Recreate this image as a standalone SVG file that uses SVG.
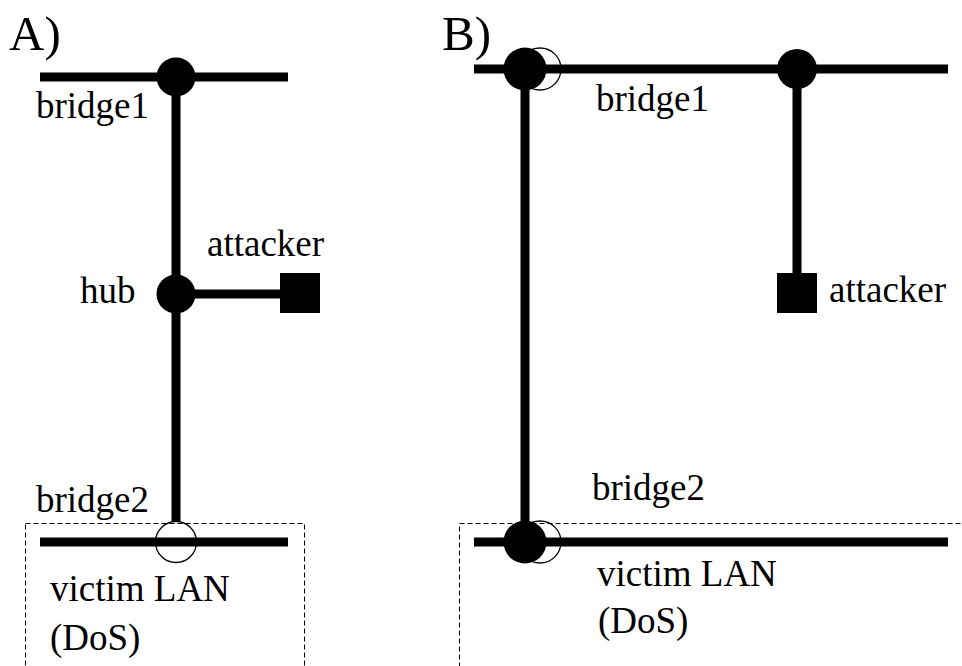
<svg xmlns="http://www.w3.org/2000/svg" width="962" height="666" viewBox="0 0 962 666">
<style>
text{font-family:"Liberation Serif","Times New Roman",serif;font-size:37px;fill:#000}
.big{font-size:49px}
.w{stroke:#000;stroke-width:9;fill:none}
.dash{stroke:#000;stroke-width:1;fill:none;stroke-dasharray:5 3}
.open{fill:none;stroke:#000;stroke-width:1.3}
</style>
<rect width="962" height="666" fill="#fff"/>
<text class="big" x="9" y="50">A)</text>
<text class="big" x="442" y="50">B)</text>
<g id="victimA-box"><rect class="dash" x="25.5" y="523.5" width="279" height="160"/></g>
<g id="victimB-box"><rect class="dash" x="459.5" y="523.5" width="520" height="160"/></g>
<g id="connectors">
<line class="w" x1="40" y1="77" x2="288" y2="77"/>
<line class="w" x1="176" y1="77" x2="176" y2="522"/>
<line class="w" x1="176" y1="294" x2="282" y2="294"/>
<line class="w" x1="40" y1="542" x2="288" y2="542"/>
<line class="w" x1="474" y1="69" x2="948" y2="69"/>
<line class="w" x1="525" y1="69" x2="525" y2="542"/>
<line class="w" x1="797" y1="69" x2="797" y2="275"/>
<line class="w" x1="474" y1="542" x2="948" y2="542"/>
</g>
<g id="bridge1A"><circle cx="176" cy="77" r="19.5"/><text x="36" y="118">bridge1</text></g>
<g id="hubA"><circle cx="176" cy="294" r="19.5"/><text x="80" y="303">hub</text></g>
<g id="attackerA"><rect x="280" y="273" width="40" height="40"/><text x="207" y="256">attacker</text></g>
<g id="bridge2A"><circle class="open" cx="176" cy="542" r="20.5"/><text x="36" y="512">bridge2</text></g>
<g id="victimA"><text x="50" y="601">victim LAN</text><text x="50" y="650">(DoS)</text></g>
<g id="bridge1B"><circle class="open" cx="540" cy="69" r="21"/><circle cx="525" cy="69" r="21.5"/><text x="596" y="111">bridge1</text></g>
<g id="nodeB"><circle cx="797" cy="69" r="20"/></g>
<g id="attackerB"><rect x="777" y="273" width="40" height="40"/><text x="829" y="302">attacker</text></g>
<g id="bridge2B"><circle class="open" cx="540" cy="542" r="21"/><circle cx="525" cy="542" r="21.5"/><text x="592" y="500">bridge2</text></g>
<g id="victimB"><text x="597" y="586">victim LAN</text><text x="598" y="633">(DoS)</text></g>
</svg>
